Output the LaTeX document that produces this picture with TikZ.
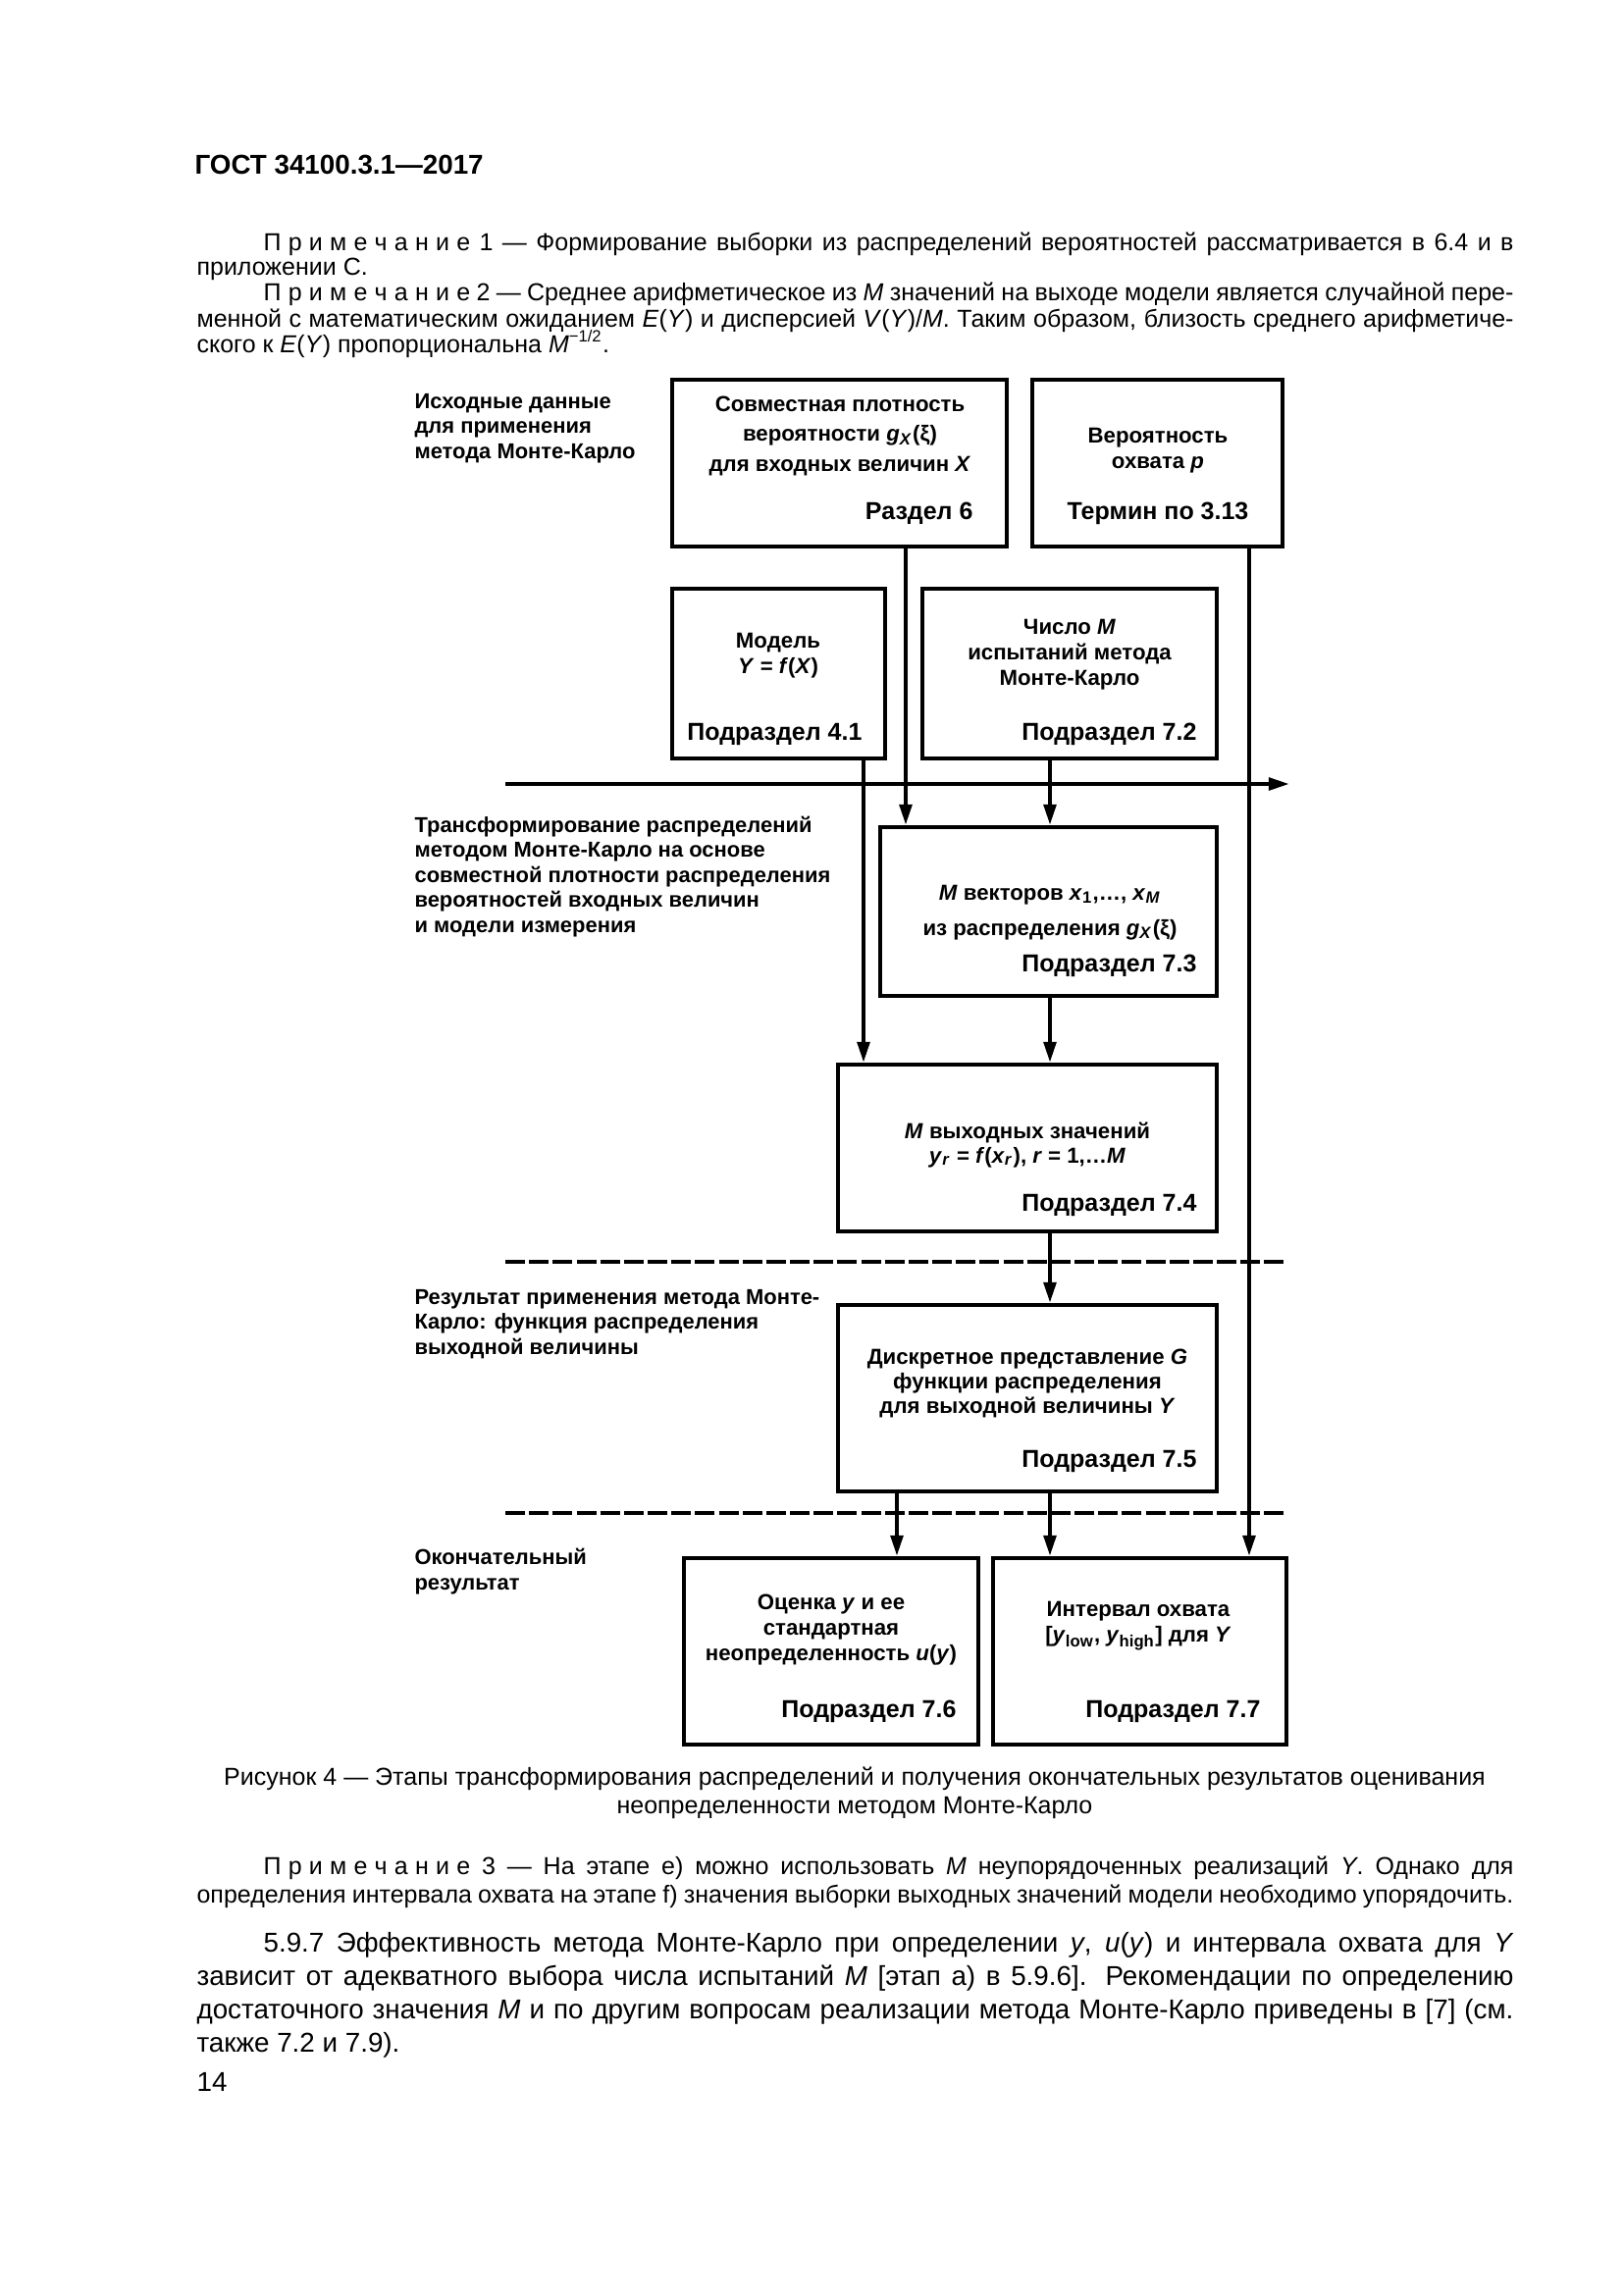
\documentclass[tikz,border=0pt]{standalone}
\usepackage{fontspec}
\setmainfont{Liberation Sans}
\usetikzlibrary{arrows.meta,fit}
\newlength\tw \setlength\tw{483.1pt}
\newlength\pind \setlength\pind{24.5pt}
\newcommand\jline[1]{\hbox to \tw{#1}}
\newcommand\ls{\kern2.6pt}
\newcommand\prim{П\ls р\ls и\ls м\ls е\ls ч\ls а\ls н\ls и\ls е}
\newcommand\cblock[2]{\vtop{\baselineskip=#1\relax\lineskiplimit=-20pt\relax\lineskip=0pt\relax\halign{\hfil##\hfil\cr#2\crcr}}}
\newcommand\lblock[2]{\vtop{\baselineskip=#1\relax\lineskiplimit=-20pt\relax\lineskip=0pt\relax\halign{##\hfil\cr#2\crcr}}}
\begin{document}
\begin{tikzpicture}[x=0.36pt,y=-0.36pt,
  box/.style={draw, line width=1.5pt, inner sep=0pt},
  conn/.style={line width=1.5pt, -{Triangle[length=7.6pt,width=4.5pt]}},
  dline/.style={line width=1.5pt, dash pattern=on 7.2pt off 1.5pt},
  ftxt/.style={font=\fontsize{8}{9.4}\selectfont\bfseries, inner sep=0pt, anchor=base},
  sect/.style={font=\fontsize{9}{10}\selectfont\bfseries, inner sep=0pt, anchor=base east},
  lab/.style={font=\fontsize{7.9}{9.2}\selectfont\bfseries, inner sep=0pt, anchor=base west},
  body/.style={font=\fontsize{9}{10}\selectfont, inner sep=0pt, anchor=base west},
  captxt/.style={font=\fontsize{9}{10}\selectfont, inner sep=0pt, anchor=base},
  mtxt/.style={font=\fontsize{10}{12}\selectfont, inner sep=0pt, anchor=base west},
  head/.style={font=\fontsize{10}{12}\selectfont\bfseries, inner sep=0pt, anchor=base west}]
\useasboundingbox[fill=white] (0,0) rectangle (1654,2339);

% page text
\node[head] (hdr) at (198,177) {ГОСТ 34100.3.1—2017};
\node[body] (n1a) at (200,255) {\jline{\hskip\pind\prim\ 1 — Формирование выборки из распределений вероятностей рассматривается в 6.4 и в}};
\node[body] (n1b) at (200,280) {приложении С.};
\node[body] (n2a) at (200,306) {\jline{\hskip\pind\prim\ 2 — Среднее арифметическое из \textit{M} значений на выходе модели является случайной пере-}};
\node[body] (n2b) at (200,333) {\jline{менной с математическим ожиданием \textit{E}(\textit{Y}) и дисперсией \textit{V}(\textit{Y})/\textit{M}. Таким образом, близость среднего арифметиче-}};
\node[body] (n2c) at (200,359) {ского к \textit{E}(\textit{Y}) пропорциональна \textit{M}\textsuperscript{−1/2}.};

% boxes
\node[box, fit={(685,387)(1026,557)}] (A) {};
\node[box, fit={(1052,387)(1307,557)}] (B) {};
\node[box, fit={(685,600)(902,773)}] (C) {};
\node[box, fit={(940,600)(1240,773)}] (D) {};
\node[box, fit={(897,843)(1240,1015)}] (E) {};
\node[box, fit={(854,1085)(1240,1255)}] (F) {};
\node[box, fit={(854,1330)(1240,1520)}] (G) {};
\node[box, fit={(697,1588)(997,1778)}] (H) {};
\node[box, fit={(1012,1588)(1311,1778)}] (I) {};

% box texts
\node[ftxt] (tA) at (856,419) {\cblock{11pt}{Совместная плотность\cr вероятности \textit{g}\textsubscript{\textit{X}}(ξ)\cr для входных величин \textit{X}}};
\node[sect] (sA) at (992,529) {Раздел 6};
\node[ftxt] (tB) at (1180,451) {\cblock{9.4pt}{Вероятность\cr охвата \textit{p}}};
\node[sect, anchor=base] (sB) at (1180,529) {Термин по 3.13};
\node[ftxt] (tC) at (793,660) {\cblock{9.7pt}{Модель\cr \textit{Y} = \textit{f}(\textit{X})}};
\node[sect] (sC) at (879,754) {Подраздел 4.1};
\node[ftxt] (tD) at (1090,646) {\cblock{9.5pt}{Число \textit{M}\cr испытаний метода\cr Монте-Карло}};
\node[sect] (sD) at (1220,754) {Подраздел 7.2};
\node[ftxt] (tE) at (1070,917) {\cblock{13pt}{\textit{M} векторов \textit{x}\textsubscript{1},…, \textit{x}\textsubscript{\textit{M}}\cr из распределения \textit{g}\textsubscript{\textit{X}}(ξ)}};
\node[sect] (sE) at (1220,990) {Подраздел 7.3};
\node[ftxt] (tF) at (1047,1160) {\cblock{9pt}{\textit{M} выходных значений\cr \textit{y}\textsubscript{\textit{r}} = \textit{f}(\textit{x}\textsubscript{\textit{r}}), \textit{r} = 1,…\textit{M}}};
\node[sect] (sF) at (1220,1234) {Подраздел 7.4};
\node[ftxt] (tG) at (1047,1390) {\cblock{9pt}{Дискретное представление \textit{G}\cr функции распределения\cr для выходной величины \textit{Y}}};
\node[sect] (sG) at (1220,1495) {Подраздел 7.5};
\node[ftxt] (tH) at (847,1640) {\cblock{9.4pt}{Оценка \textit{y} и ее\cr стандартная\cr неопределенность \textit{u}(\textit{y})}};
\node[sect] (sH) at (975,1750) {Подраздел 7.6};
\node[ftxt] (tI) at (1160,1647) {\cblock{9.7pt}{Интервал охвата\cr [\textit{y}\textsubscript{low}, \textit{y}\textsubscript{high}] для \textit{Y}}};
\node[sect] (sI) at (1285,1750) {Подраздел 7.7};

% left labels
\node[lab] (L1) at (422,416) {\lblock{9.2pt}{Исходные данные\cr для применения\cr метода Монте-Карло}};
\node[lab] (L2) at (422,848) {\lblock{9.2pt}{Трансформирование распределений\cr методом Монте-Карло на основе\cr совместной плотности распределения\cr вероятностей входных величин\cr и модели измерения}};
\node[lab] (L3) at (422,1329) {\lblock{9.2pt}{Результат применения метода Монте-\cr Карло: функция распределения\cr выходной величины}};
\node[lab] (L4) at (422,1594) {\lblock{9.4pt}{Окончательный\cr результат}};

% separators
\coordinate (hl) at (515,799); \coordinate (hr) at (1314,799);
\coordinate (d1l) at (515,1286); \coordinate (d1r) at (1311,1286);
\coordinate (d2l) at (515,1542); \coordinate (d2r) at (1311,1542);
\draw[conn] (hl) -- (hr);
\draw[dline] (d1l) -- (d1r);
\draw[dline] (d2l) -- (d2r);

% columns
\coordinate (xa) at (923,0); \coordinate (xb) at (1273,0);
\coordinate (xc) at (880,0); \coordinate (xd) at (1070,0);
\coordinate (xg) at (914,0);
\draw[conn] (A.south -| xa) -- (E.north -| xa);
\draw[conn] (B.south -| xb) -- (I.north -| xb);
\draw[conn] (C.south -| xc) -- (F.north -| xc);
\draw[conn] (D.south -| xd) -- (E.north -| xd);
\draw[conn] (E.south -| xd) -- (F.north -| xd);
\draw[conn] (F.south -| xd) -- (G.north -| xd);
\draw[conn] (G.south -| xg) -- (H.north -| xg);
\draw[conn] (G.south -| xd) -- (I.north -| xd);

% caption and text below
\node[captxt] (cp1) at (871,1819) {Рисунок 4 — Этапы трансформирования распределений и получения окончательных результатов оценивания};
\node[captxt] (cp2) at (871,1848) {неопределенности методом Монте-Карло};
\node[body] (n3a) at (200,1910) {\jline{\hskip\pind\prim\ 3 — На этапе е) можно использовать \textit{M} неупорядоченных реализаций \textit{Y}. Однако для}};
\node[body] (n3b) at (200,1939) {\jline{определения интервала охвата на этапе f) значения выборки выходных значений модели необходимо упорядочить.}};
\node[mtxt] (p1) at (200,1989) {\jline{\hskip\pind 5.9.7 Эффективность метода Монте-Карло при определении \textit{y}, \textit{u}(\textit{y}) и интервала охвата для \textit{Y}}};
\node[mtxt] (p2) at (200,2023) {\jline{зависит от адекватного выбора числа испытаний \textit{M} [этап а) в 5.9.6]. Рекомендации по определению}};
\node[mtxt] (p3) at (200,2057) {\jline{достаточного значения \textit{M} и по другим вопросам реализации метода Монте-Карло приведены в [7] (см.}};
\node[mtxt] (p4) at (200,2091) {также 7.2 и 7.9).};
\node[mtxt] (pg) at (200,2131) {14};
\end{tikzpicture}
\end{document}
